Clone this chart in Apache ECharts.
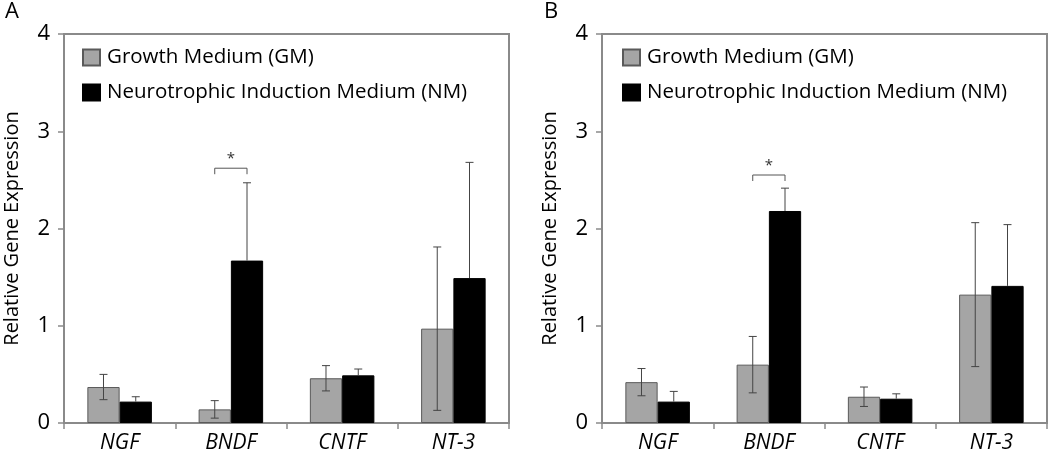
<!DOCTYPE html>
<html>
<head>
<meta charset="utf-8">
<script src="https://cdn.jsdelivr.net/npm/echarts@6/dist/echarts.min.js"></script>
<style>
  html, body { margin: 0; padding: 0; background: #fff; }
  #chart { width: 1050px; height: 454px; }
</style>
</head>
<body>
<div id="chart"></div>
<script>
// 基因类别
var genes = ['NGF', 'BNDF', 'CNTF', 'NT-3'];
var seriesNames = ['Growth Medium (GM)', 'Neurotrophic Induction Medium (NM)'];

// 图A 数据 (均值, 误差)
var gmA = [0.37, 0.14, 0.46, 0.97];
var gmErrA = [0.13, 0.09, 0.13, 0.84];
var nmA = [0.22, 1.67, 0.49, 1.49];
var nmErrA = [0.05, 0.80, 0.065, 1.19];

// 图B 数据
var gmB = [0.42, 0.60, 0.27, 1.32];
var gmErrB = [0.14, 0.29, 0.10, 0.74];
var nmB = [0.22, 2.18, 0.25, 1.41];
var nmErrB = [0.105, 0.235, 0.05, 0.63];

// 显著性标记 [类别序号, 高度]
var sigA = [[1, 2.62]];
var sigB = [[1, 2.55]];

var FONT = 'Open Sans';
var TEXT_COLOR = '#000';
var AXIS_COLOR = '#8a8a8a';
var BAR_W = 0.29;

function errData(mean, err) {
    return mean.map(function (m, i) { return [i, m, err[i]]; });
}

// 误差线 (黑色柱只画上半部分)
function errorRender(side) {
    return function (params, api) {
        var i = api.value(0), m = api.value(1), e = api.value(2);
        var band = api.size([1, 0])[0];
        var dx = side * band * BAR_W / 2;
        var top = api.coord([i, m + e]);
        var mid = api.coord([i, m]);
        var bot = api.coord([i, Math.max(m - e, 0)]);
        var x = top[0] + dx;
        var cap = 4;
        var style = {stroke: '#444', lineWidth: 1};
        var kids = [
            {type: 'line', shape: {x1: x - cap, y1: top[1], x2: x + cap, y2: top[1]}, style: style}
        ];
        if (side < 0) {
            kids.push({type: 'line', shape: {x1: x, y1: top[1], x2: x, y2: bot[1]}, style: style});
            kids.push({type: 'line', shape: {x1: x - cap, y1: bot[1], x2: x + cap, y2: bot[1]}, style: style});
        } else {
            kids.push({type: 'line', shape: {x1: x, y1: top[1], x2: x, y2: mid[1]}, style: style});
        }
        return {type: 'group', children: kids};
    };
}

// 显著性括号 + 星号
function sigRender(params, api) {
    var i = api.value(0), h = api.value(1);
    var band = api.size([1, 0])[0];
    var p = api.coord([i, h]);
    var x1 = p[0] - band * BAR_W / 2, x2 = p[0] + band * BAR_W / 2;
    var style = {stroke: '#555', lineWidth: 1, fill: null};
    return {
        type: 'group',
        children: [
            {type: 'polyline', shape: {points: [[x1, p[1] + 6], [x1, p[1]], [x2, p[1]], [x2, p[1] + 6]]}, style: style},
            {type: 'text', style: {text: '*', x: p[0], y: p[1] - 2, align: 'center', verticalAlign: 'bottom',
                font: '15px "' + FONT + '"', fill: '#333'}}
        ]
    };
}

function panelSeries(idx, gm, gmErr, nm, nmErr, sig) {
    return [
        {type: 'bar', name: seriesNames[0], xAxisIndex: idx, yAxisIndex: idx, data: gm,
            barWidth: (BAR_W * 100) + '%', barGap: '0%',
            itemStyle: {color: '#a5a5a5', borderColor: '#5a5a5a', borderWidth: 1}},
        {type: 'bar', name: seriesNames[1], xAxisIndex: idx, yAxisIndex: idx, data: nm,
            barWidth: (BAR_W * 100) + '%', barGap: '0%',
            itemStyle: {color: '#000', borderColor: '#000', borderWidth: 1}},
        {type: 'custom', xAxisIndex: idx, yAxisIndex: idx, data: errData(gm, gmErr),
            encode: {x: 0, y: 1}, renderItem: errorRender(-1), z: 5, silent: true},
        {type: 'custom', xAxisIndex: idx, yAxisIndex: idx, data: errData(nm, nmErr),
            encode: {x: 0, y: 1}, renderItem: errorRender(1), z: 5, silent: true},
        {type: 'custom', xAxisIndex: idx, yAxisIndex: idx, data: sig,
            encode: {x: 0, y: 1}, renderItem: sigRender, z: 5, silent: true}
    ];
}

function xAxisOf(idx) {
    return {
        type: 'category', gridIndex: idx, data: genes,
        axisLine: {lineStyle: {color: AXIS_COLOR, width: 2}},
        axisTick: {show: true, length: 6, lineStyle: {color: AXIS_COLOR, width: 1.5}},
        axisLabel: {color: TEXT_COLOR, fontSize: 21, fontStyle: 'italic', fontFamily: FONT, margin: 10}
    };
}

function yAxisOf(idx) {
    return {
        type: 'value', gridIndex: idx, min: 0, max: 4, interval: 1,
        name: 'Relative Gene Expression', nameLocation: 'middle', nameGap: 42,
        nameTextStyle: {color: TEXT_COLOR, fontSize: 20, fontFamily: FONT},
        axisLine: {show: true, lineStyle: {color: AXIS_COLOR, width: 2}},
        axisTick: {show: true, length: 6, lineStyle: {color: AXIS_COLOR, width: 1.5}},
        axisLabel: {color: TEXT_COLOR, fontSize: 22, fontFamily: FONT, margin: 14},
        splitLine: {show: false}
    };
}

function legendOf(left) {
    return {
        data: seriesNames, orient: 'vertical', left: left, top: 42,
        icon: 'rect', itemWidth: 17, itemHeight: 16, itemGap: 14,
        textStyle: {color: TEXT_COLOR, fontSize: 20.5, fontFamily: FONT, padding: [0, 0, 0, 2]},
        selectedMode: false
    };
}

var option = {
    backgroundColor: '#fff',
    animation: false,
    title: [
        {text: 'A', left: 0, top: -4, textStyle: {fontSize: 22, fontWeight: 'normal', color: TEXT_COLOR, fontFamily: FONT}},
        {text: 'B', left: 539, top: -4, textStyle: {fontSize: 22, fontWeight: 'normal', color: TEXT_COLOR, fontFamily: FONT}}
    ],
    legend: [legendOf(77), legendOf(617)],
    grid: [
        {left: 64, right: 541, top: 34, bottom: 30, show: true, borderColor: AXIS_COLOR, borderWidth: 2},
        {left: 602, right: 3, top: 34, bottom: 30, show: true, borderColor: AXIS_COLOR, borderWidth: 2}
    ],
    xAxis: [xAxisOf(0), xAxisOf(1)],
    yAxis: [yAxisOf(0), yAxisOf(1)],
    series: panelSeries(0, gmA, gmErrA, nmA, nmErrA, sigA)
        .concat(panelSeries(1, gmB, gmErrB, nmB, nmErrB, sigB))
};

var myChart = echarts.init(document.getElementById('chart'));
myChart.setOption(option);
</script>
</body>
</html>
